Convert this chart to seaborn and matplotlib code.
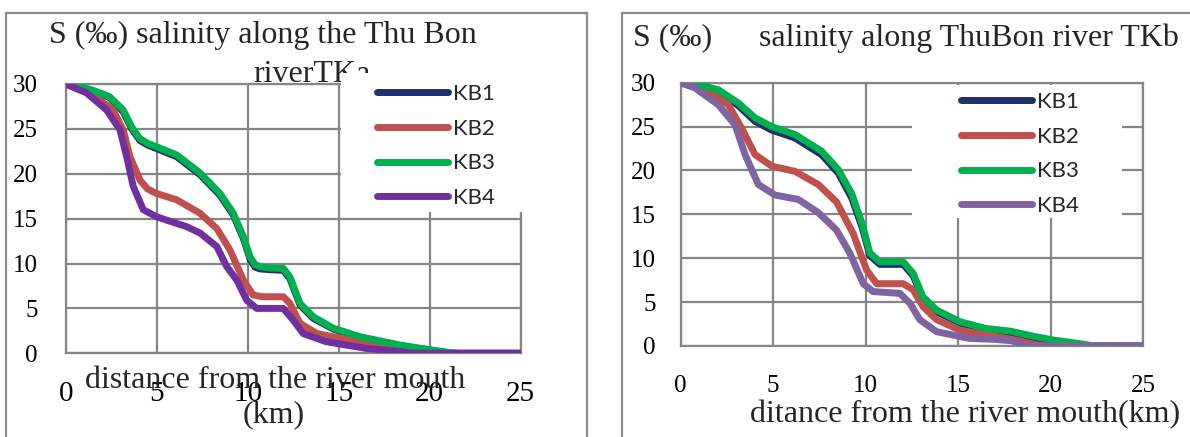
import pandas as pd
import matplotlib
matplotlib.use("Agg")
import matplotlib.pyplot as plt
from matplotlib.patches import Rectangle
import seaborn as sns

# ---- data ----
stations = ["KB1", "KB2", "KB3", "KB4"]

# TKa (left panel)
tka_d13 = [0, 0.5, 1.5, 2.4, 3.16, 3.63, 4.08, 4.5, 5.0, 6.1, 7.38, 8.48, 9.21, 9.76, 10.13, 10.4,
           10.68, 11.3, 11.96, 12.32, 12.87, 13.6, 14.7, 16.17, 18.37, 20.0, 21.1, 21.6, 25]
tka_kb1 = [30, 29.85, 29.2, 28.5, 26.9, 25.0, 23.7, 23.2, 22.8, 21.9, 19.9, 17.6, 15.4, 12.8, 10.5, 9.6,
           9.4, 9.3, 9.25, 8.3, 5.4, 3.9, 2.7, 1.75, 0.85, 0.35, 0.05, 0, 0]
tka_kb3 = [30, 29.9, 29.3, 28.6, 27.1, 25.2, 23.9, 23.4, 23.0, 22.1, 20.1, 17.8, 15.6, 13.0, 10.75, 9.9,
           9.65, 9.5, 9.46, 8.5, 5.57, 4.08, 2.8, 1.85, 0.92, 0.4, 0.07, 0, 0]
tka_d2 = [0, 1.5, 2.6, 3.16, 3.53, 4.08, 4.5, 5.0, 6.1, 7.38, 8.3, 9.03, 9.76, 10.3, 10.8,
          11.96, 12.32, 12.87, 13.8, 15.6, 18.37, 19.4, 20.0, 25]
tka_kb2 = [30, 28.8, 27.1, 24.9, 21.9, 19.3, 18.3, 17.8, 17.1, 15.6, 13.9, 11.5, 8.16, 6.5, 6.3,
           6.3, 5.57, 3.34, 2.2, 1.48, 0.55, 0.15, 0, 0]
tka_d4 = [0, 1.15, 2.25, 2.98, 3.35, 3.71, 4.26, 5.0, 6.65, 7.38, 8.3, 8.85, 9.4, 9.95, 10.5,
          11.96, 12.5, 13.05, 14.3, 16.5, 18.37, 19.0, 25]
tka_kb4 = [30, 29.0, 27.1, 24.9, 21.9, 18.6, 16.0, 15.2, 14.1, 13.4, 11.9, 9.65, 8.16, 5.9, 5.0,
           5.0, 3.7, 2.2, 1.3, 0.55, 0.2, 0, 0]

# TKb (right panel)
tkb_d13 = [0, 0.5, 2.03, 3.11, 4.02, 4.92, 6.18, 7.62, 8.52, 9.24, 9.8, 10.23, 10.77, 12.03, 12.57,
           13.1, 13.84, 15.1, 16.5, 17.8, 19.1, 20.1, 21.8, 22.3, 25]
tkb_kb1 = [30, 29.95, 29.0, 27.4, 25.6, 24.6, 23.7, 21.8, 19.7, 16.9, 13.6, 10.3, 9.3, 9.3, 8.0,
           5.4, 3.9, 2.6, 1.85, 1.5, 0.6, 0.1, 0, 0, 0]
tkb_kb3 = [30, 30, 29.2, 27.7, 26.0, 25.0, 24.1, 22.2, 20.1, 17.4, 14.0, 10.6, 9.6, 9.6, 8.28,
           5.6, 4.1, 2.77, 2.0, 1.7, 1.1, 0.7, 0.2, 0, 0]
tkb_d2 = [0, 1.49, 2.57, 3.3, 4.02, 4.92, 6.18, 7.44, 8.43, 9.33, 10.05, 10.6, 12.03, 12.57,
          13.1, 13.84, 15.1, 17.4, 18.3, 19.1, 19.7, 25]
tkb_kb2 = [30, 29.0, 27.5, 24.8, 21.8, 20.5, 19.9, 18.4, 16.4, 12.8, 8.66, 7.1, 7.1, 6.4,
           4.5, 3.0, 1.8, 0.95, 0.6, 0.2, 0, 0]
tkb_d4 = [0, 0.77, 2.03, 2.94, 3.48, 4.2, 5.1, 6.36, 7.44, 8.43, 9.15, 9.87, 10.4, 11.85,
          12.4, 12.93, 13.84, 15.6, 17.0, 17.9, 18.7, 25]
tkb_kb4 = [30, 29.4, 27.5, 25.2, 21.8, 18.4, 17.2, 16.7, 15.2, 13.2, 10.56, 7.1, 6.2, 6.0,
           4.86, 3.0, 1.63, 0.87, 0.75, 0.6, 0, 0]

x_ticks = [0, 5, 10, 15, 20, 25]
y_ticks = [0, 5, 10, 15, 20, 25, 30]


def long_df(parts):
    rows = []
    for name, d, s in parts:
        for xi, yi in zip(d, s):
            rows.append({"distance": xi, "salinity": yi, "station": name})
    return pd.DataFrame(rows)


df_a = long_df([("KB1", tka_d13, tka_kb1), ("KB2", tka_d2, tka_kb2),
                ("KB3", tka_d13, tka_kb3), ("KB4", tka_d4, tka_kb4)])
df_b = long_df([("KB1", tkb_d13, tkb_kb1), ("KB2", tkb_d2, tkb_kb2),
                ("KB3", tkb_d13, tkb_kb3), ("KB4", tkb_d4, tkb_kb4)])

pal_a = {"KB1": "#1f2f6b", "KB2": "#c0504d", "KB3": "#00b050", "KB4": "#7030a0"}
pal_b = {"KB1": "#1f2f6b", "KB2": "#c0504d", "KB3": "#00b050", "KB4": "#8064a2"}

sns.set_style("white")
plt.rcParams["font.family"] = ["Liberation Serif", "DejaVu Serif"]

W, H = 1190, 437
fig = plt.figure(figsize=(W / 100, H / 100), dpi=100)


def fx(x):
    return x / W


def fy(y):
    return 1 - y / H


grid_c = "#868686"
lw = 5

ax1 = fig.add_axes([fx(65.7), fy(353.3), fx(520.7 - 65.7), (353.3 - 84) / H])
ax2 = fig.add_axes([fx(680.7), fy(346), fx(1143 - 680.7), (346 - 82.7) / H])

for ax, df, pal, xpad, xsize, ypad in [(ax1, df_a, pal_a, 20, 21, 20), (ax2, df_b, pal_b, 21, 18, 18)]:
    sns.lineplot(data=df, x="distance", y="salinity", hue="station", hue_order=stations,
                 palette=pal, estimator=None, linewidth=lw, ax=ax, legend=True,
                 solid_capstyle="round", solid_joinstyle="round", zorder=3)
    ax.set_xlim(0, 25)
    ax.set_ylim(0, 30)
    ax.set_xticks(x_ticks)
    ax.set_yticks(y_ticks)
    ax.set_xlabel("")
    ax.set_ylabel("")
    ax.grid(True, color=grid_c, linewidth=1.6)
    ax.set_axisbelow(True)
    for sp in ax.spines.values():
        sp.set_visible(True)
        sp.set_color(grid_c)
        sp.set_linewidth(1.6)
    ax.tick_params(axis="both", length=0, colors="black")
    ax.tick_params(axis="x", pad=xpad, labelsize=xsize)
    ax.tick_params(axis="y", pad=ypad, labelsize=18)

# white legend areas (cover grid, as in the original)
ax1.add_patch(Rectangle((fx(341), fy(212)), fx(530 - 341), (212 - 73) / H, transform=fig.transFigure,
                        facecolor="white", edgecolor="none", zorder=4, clip_on=False))
ax2.add_patch(Rectangle((fx(912), fy(218)), fx(1122 - 912), (218 - 85.5) / H, transform=fig.transFigure,
                        facecolor="white", edgecolor="none", zorder=4, clip_on=False))

leg_kw = dict(frameon=False, loc="upper left", bbox_transform=fig.transFigure, borderpad=0,
              borderaxespad=0, handlelength=3.2, handletextpad=0.2, labelspacing=0.66,
              prop={"family": "Lato", "size": 16})
for ax, pos in [(ax1, (fx(377), fy(84))), (ax2, (fx(961), fy(92)))]:
    h, l = ax.get_legend_handles_labels()
    lg = ax.legend(h, l, bbox_to_anchor=pos, **leg_kw)
    lg.set_zorder(5)
    for line in lg.get_lines():
        line.set_linewidth(lw)
        line.set_solid_capstyle("round")

# titles and axis captions
fs = 23
fig.text(fx(263), fy(35), "S (‰) salinity along the Thu Bon", ha="center", va="center", fontsize=fs)
ax1.text(fx(253), fy(74), "riverTKa", ha="left", va="center", fontsize=fs,
         transform=fig.transFigure, zorder=3.5, clip_on=False)
fig.text(fx(275), fy(380), "distance from the river mouth", ha="center", va="center", fontsize=fs)
fig.text(fx(274), fy(415), "(km)", ha="center", va="center", fontsize=fs)

fig.text(fx(633), fy(38), "S (‰)", ha="left", va="center", fontsize=fs)
fig.text(fx(759), fy(38), "salinity along ThuBon river TKb", ha="left", va="center", fontsize=fs)
fig.text(fx(750), fy(415), "ditance from the river mouth(km)", ha="left", va="center", fontsize=fs)

# panel borders
border_c = "#8c8c8c"
fig.add_artist(Rectangle((fx(6), -0.05), fx(587 - 6), fy(13) + 0.05, transform=fig.transFigure,
                         fill=False, edgecolor=border_c, linewidth=1.6))
fig.add_artist(Rectangle((fx(622), -0.05), fx(1200 - 622), fy(13) + 0.05, transform=fig.transFigure,
                         fill=False, edgecolor=border_c, linewidth=1.6))

fig.savefig("out.png", dpi=100)
